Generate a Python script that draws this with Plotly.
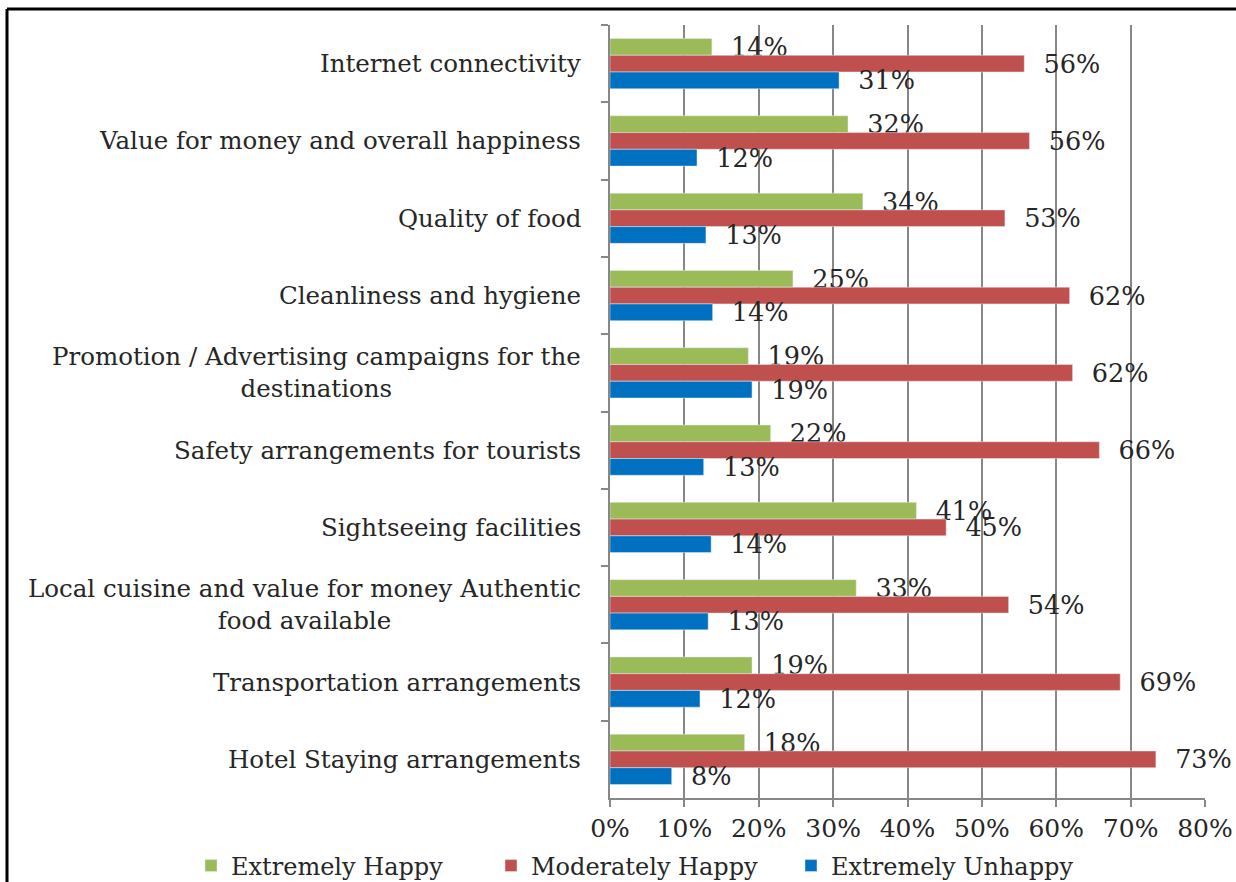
import plotly.graph_objects as go

categories = [
    "Internet connectivity",
    "Value for money and overall happiness",
    "Quality of food",
    "Cleanliness and hygiene",
    "Promotion / Advertising campaigns for the<br>destinations",
    "Safety arrangements for tourists",
    "Sightseeing facilities",
    "Local cuisine and value for money Authentic<br>food available",
    "Transportation arrangements",
    "Hotel Staying arrangements",
]
extremely_happy = [0.137, 0.320, 0.340, 0.246, 0.186, 0.216, 0.412, 0.331, 0.191, 0.181]
moderately_happy = [0.557, 0.564, 0.531, 0.618, 0.622, 0.658, 0.452, 0.536, 0.686, 0.734]
extremely_unhappy = [0.308, 0.117, 0.129, 0.138, 0.191, 0.126, 0.136, 0.132, 0.121, 0.083]
x_ticks = [0, 0.1, 0.2, 0.3, 0.4, 0.5, 0.6, 0.7, 0.8]

series = [
    ("Extremely Happy", extremely_happy, "#9BBB59"),
    ("Moderately Happy", moderately_happy, "#C0504D"),
    ("Extremely Unhappy", extremely_unhappy, "#0070C0"),
]

FONT = "DejaVu Serif, serif"
TXT = "#262626"
GRID = "#878787"
W, H = 1236, 882
L, R, T, B = 610, 31, 25, 84
pw, ph = W - L - R, H - T - B

fig = go.Figure()
for name, vals, color in series:
    fig.add_trace(go.Bar(
        y=categories, x=vals, name=name, orientation="h",
        marker=dict(color=color),
        texttemplate="\u00a0\u00a0%{x:.0%}",
        textposition="outside", constraintext="none", cliponaxis=False,
        textfont=dict(family=FONT, size=25.5, color=TXT),
        hoverinfo="skip",
    ))

for c in categories:
    fig.add_annotation(
        x=-27 / pw, xref="paper", xanchor="right",
        y=c, yref="y", yanchor="middle", align="center",
        text=c, showarrow=False,
        font=dict(family=FONT, size=24.5, color=TXT),
    )

# outer frame (top and left edges visible in the reference)
fig.add_shape(type="line", xref="paper", yref="paper",
              x0=(7 - L) / pw, x1=(W + 5 - L) / pw,
              y0=1 + (T - 9) / ph, y1=1 + (T - 9) / ph,
              line=dict(color="black", width=3))
fig.add_shape(type="line", xref="paper", yref="paper",
              x0=(7 - L) / pw, x1=(7 - L) / pw,
              y0=1 + (T - 9) / ph, y1=-(B + 5) / ph,
              line=dict(color="black", width=3))

fig.update_layout(
    width=W, height=H,
    margin=dict(l=L, r=R, t=T, b=B, autoexpand=False),
    paper_bgcolor="white", plot_bgcolor="white",
    barmode="group", bargap=0.35, bargroupgap=0,
    font=dict(family=FONT, size=24, color=TXT),
    showlegend=True,
    legend=dict(
        orientation="h", x=(191 - L) / pw, xanchor="left",
        y=-(866 - (H - B)) / ph, yanchor="middle",
        font=dict(family=FONT, size=24, color=TXT),
        bgcolor="rgba(0,0,0,0)",
        traceorder="normal", entrywidth=255, itemwidth=30,
    ),
    xaxis=dict(
        range=[0, 0.8], tickvals=x_ticks, tickformat=".0%",
        showgrid=True, gridcolor=GRID, gridwidth=2,
        showline=True, linecolor=GRID, linewidth=2,
        ticks="outside", ticklen=7, tickcolor=GRID, tickwidth=2,
        tickfont=dict(family=FONT, size=25, color=TXT),
        zeroline=False, fixedrange=True,
    ),
    yaxis=dict(
        autorange="reversed", showticklabels=False,
        showline=True, linecolor=GRID, linewidth=2,
        ticks="outside", tickson="boundaries", ticklen=7,
        tickcolor=GRID, tickwidth=2,
        showgrid=False, zeroline=False, fixedrange=True,
    ),
)

fig.write_html(
    "out.html",
    config={"displayModeBar": False},
    post_script="document.body.style.margin='0px';document.body.style.overflow='hidden';",
)
